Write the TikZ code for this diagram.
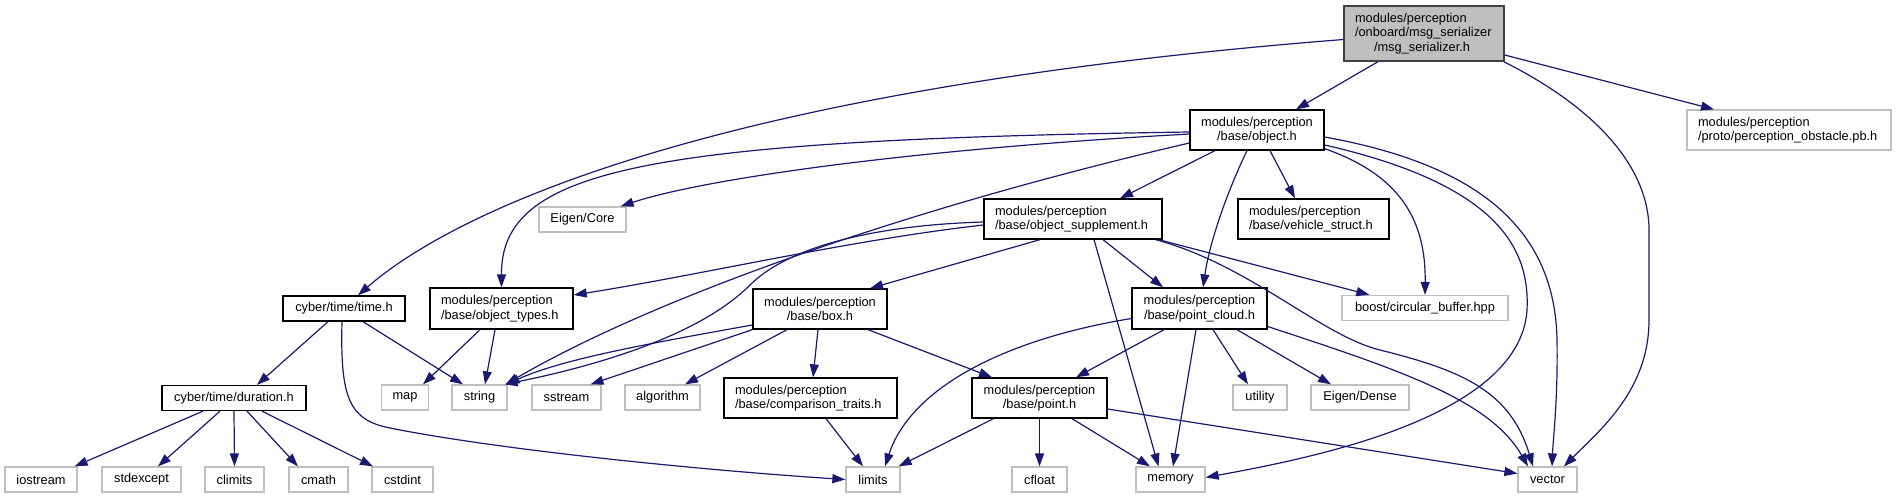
\documentclass[tikz,border=0pt]{standalone}
\usepackage{fontspec}
\setmainfont{Liberation Sans}
\usepackage{tikz}
\usetikzlibrary{arrows.meta}
\definecolor{navyedge}{HTML}{191970}
\definecolor{sysgray}{HTML}{BFBFBF}

\begin{document}
\begin{tikzpicture}[>={Triangle[length=13pt, width=9pt]}, x=1pt, y=-1pt,
    hdr/.style={draw=black, line width=1.3pt, fill=white, inner xsep=11pt, inner ysep=0pt,
        minimum height=25pt, font=\fontsize{12.8}{14.5}\selectfont},
    sys/.style={hdr, draw=sysgray},
    two/.style={minimum height=40pt},
    inc/.style={->, draw=navyedge, line width=1.2pt}]

    \useasboundingbox (0, 0) rectangle (1897, 499);

    % --- 第一层 ---
    \node[hdr, draw=black!75, fill=sysgray, minimum height=55pt, text width=138pt, align=left] (root) at (1424, 33.5)
        {modules/perception\\/onboard/msg\_serializer\\\hspace*{19pt}/msg\_serializer.h};

    % --- 第二层 ---
    \node[hdr, two, text width=112pt, align=center] (obj) at (1257, 130) {modules/perception\\/base/object.h};
    \node[sys, two, text width=182pt, align=left] (pb) at (1789, 130) {modules/perception\\/proto/perception\_obstacle.pb.h};

    % --- 第三层 ---
    \node[sys, minimum width=87pt] (eigc) at (582.5, 219.5) {Eigen/Core};
    \node[hdr, two, text width=156pt, align=left] (sup) at (1073, 219) {modules/perception\\/base/object\_supplement.h};
    \node[hdr, two, text width=129pt, align=left] (vs) at (1313.5, 219) {modules/perception\\/base/vehicle\_struct.h};

    % --- 第四层 ---
    \node[hdr, minimum width=122pt] (time) at (344, 308.5) {cyber/time/time.h};
    \node[hdr, minimum height=41pt, text width=121pt, align=left] (types) at (501.5, 308.5) {modules/perception\\/base/object\_types.h};
    \node[hdr, two, text width=112pt, align=center] (box) at (820, 309) {modules/perception\\/base/box.h};
    \node[hdr, minimum height=41pt, text width=113pt, align=center] (pcl) at (1199.5, 308.5) {modules/perception\\/base/point\_cloud.h};
    \node[sys, minimum width=166pt] (boost) at (1425, 308) {boost/circular\_buffer.hpp};

    % --- 第五层 ---
    \node[hdr, minimum width=144pt] (dur) at (234, 398) {cyber/time/duration.h};
    \node[sys, minimum width=46pt] (map) at (405, 397.5) {map};
    \node[sys, minimum width=55pt] (string) at (479.5, 397.5) {string};
    \node[sys, minimum width=69pt] (sstream) at (566.5, 397.5) {sstream};
    \node[sys, minimum width=75pt] (algorithm) at (662.5, 397.5) {algorithm};
    \node[hdr, two, text width=151pt, align=left] (cmp) at (810.5, 398) {modules/perception\\/base/comparison\_traits.h};
    \node[hdr, two, text width=113pt, align=center] (point) at (1039.5, 398) {modules/perception\\/base/point.h};
    \node[sys, minimum width=54pt] (utility) at (1260, 397.5) {utility};
    \node[sys, minimum width=98pt] (edense) at (1360, 397.5) {Eigen/Dense};

    % --- 第六层 ---
    \node[sys, minimum width=72pt] (iostream) at (41, 479.5) {iostream};
    \node[sys, minimum width=79pt] (stdexcept) at (141.5, 479.5) {stdexcept};
    \node[sys, minimum width=59pt] (climits) at (234.5, 479.5) {climits};
    \node[sys, minimum width=59pt] (cmath) at (318.5, 479.5) {cmath};
    \node[sys, minimum width=61pt] (cstdint) at (402.5, 479.5) {cstdint};
    \node[sys, minimum width=54pt] (limits) at (873, 479.5) {limits};
    \node[sys, minimum width=55pt] (cfloat) at (1039.5, 479.5) {cfloat};
    \node[sys, minimum width=69pt] (memory) at (1170.5, 479.5) {memory};
    \node[sys, minimum width=59pt] (vector) at (1547.5, 479.5) {vector};

    % --- msg_serializer.h ---
    \draw[inc] ([yshift=-6pt]root.west) .. controls (700, 90) and (450, 215) .. ([xshift=14pt]time.north);
    \draw[inc] ([xshift=-46pt]root.south) -- ([xshift=39pt]obj.north);
    \draw[inc] ([yshift=-21.5pt]root.east) -- ([xshift=-75pt]pb.north);
    \draw[inc] ([xshift=-1pt]root.south east) .. controls (1600, 110) and (1649, 170) .. (1649, 230) -- (1649, 320)
        .. controls (1649, 390) and (1600, 430) .. ([xshift=16.5pt]vector.north);

    % --- object.h ---
    \draw[inc] ([xshift=13pt]obj.south) -- ([xshift=-18.5pt]vs.north);
    \draw[inc] ([xshift=-42pt]obj.south) -- ([xshift=47pt]sup.north);
    \draw[inc] ([xshift=-10pt]obj.south) .. controls (1228, 190) and (1210, 240) .. ([xshift=3.5pt]pcl.north);
    \draw[inc] ([yshift=2pt]obj.south east) .. controls (1400, 175) and (1426, 220) .. (boost.north);
    \draw[inc] ([yshift=-15pt]obj.east) .. controls (1500, 185) and (1530, 250) .. (1527, 310)
        .. controls (1520, 420) and (1300, 460) .. ([yshift=2pt]memory.east);
    \draw[inc] ([yshift=-7pt]obj.east) .. controls (1480, 165) and (1555, 230) .. (1557, 340)
        .. controls (1558, 400) and (1553, 440) .. ([xshift=4.5pt]vector.north);
    \draw[inc] ([yshift=-2pt]obj.west) .. controls (640, 140) and (501, 170) .. (types.north);
    \draw[inc] ([yshift=-4pt]obj.west) .. controls (900, 150) and (700, 180) .. ([xshift=-6pt]eigc.north east);
    \draw[inc] ([yshift=-13pt]obj.west) .. controls (900, 210) and (650, 300) .. ([xshift=-2pt]string.north east);

    % --- object_supplement.h ---
    \draw[inc] ([yshift=-6pt]sup.west) .. controls (850, 240) and (700, 275) .. ([yshift=13.5pt]types.east);
    \draw[inc] ([yshift=-3pt]sup.west) .. controls (880, 225) and (790, 245) .. (750, 285)
        .. controls (700, 335) and (600, 365) .. ([xshift=-3pt]string.north east);
    \draw[inc] ([xshift=-33pt]sup.south) -- ([xshift=50pt]box.north);
    \draw[inc] ([xshift=30pt]sup.south) -- ([xshift=-36.5pt]pcl.north);
    \draw[inc] ([xshift=-4pt]sup.south east) -- ([xshift=28pt]boost.north west);
    \draw[inc] ([xshift=21pt]sup.south) -- ([xshift=-12pt]memory.north);
    \draw[inc] ([xshift=-7pt]sup.south east) .. controls (1250, 265) and (1320, 335) .. (1380, 350)
        .. controls (1460, 370) and (1510, 390) .. ([xshift=-14.5pt]vector.north);

    % --- time.h / object_types.h ---
    \draw[inc] ([xshift=-16pt]time.south) -- ([xshift=23pt]dur.north);
    \draw[inc] ([xshift=19pt]time.south) -- ([xshift=-16.5pt]string.north);
    \draw[inc] ([xshift=-2pt]time.south) .. controls (340, 400) and (350, 420) .. (390, 428)
        .. controls (500, 450) and (700, 470) .. (limits.west);
    \draw[inc] ([xshift=-21.5pt]types.south) -- ([xshift=18pt]map.north);
    \draw[inc] ([xshift=-6.5pt]types.south) -- ([xshift=5.5pt]string.north);

    % --- duration.h ---
    \draw[inc] ([xshift=-31pt]dur.south) -- ([xshift=-3pt]iostream.north east);
    \draw[inc] ([xshift=-14pt]dur.south) -- ([xshift=16.5pt]stdexcept.north);
    \draw[inc] (dur.south) -- (climits.north);
    \draw[inc] ([xshift=13pt]dur.south) -- ([xshift=-20.5pt]cmath.north);
    \draw[inc] ([xshift=28pt]dur.south) -- ([xshift=-29.5pt]cstdint.north);

    % --- box.h ---
    \draw[inc] ([yshift=-16pt]box.west) .. controls (640, 345) and (560, 360) .. ([xshift=-1pt]string.north east);
    \draw[inc] (box.south west) -- ([xshift=24pt]sstream.north);
    \draw[inc] ([xshift=-33pt]box.south) -- ([xshift=22.5pt]algorithm.north);
    \draw[inc] ([xshift=-2pt]box.south) -- ([xshift=2.5pt]cmp.north);
    \draw[inc] ([xshift=48pt]box.south) -- ([xshift=-47.5pt]point.north);

    % --- point_cloud.h ---
    \draw[inc] ([xshift=-35.5pt]pcl.south) -- ([xshift=36.5pt]point.north);
    \draw[inc] ([xshift=-3.5pt]pcl.south) -- ([xshift=2.5pt]memory.north);
    \draw[inc] ([xshift=13.5pt]pcl.south) -- ([xshift=-12pt]utility.north);
    \draw[inc] ([xshift=37.5pt]pcl.south) -- ([xshift=-29pt]edense.north);
    \draw[inc] ([yshift=-18pt]pcl.east) .. controls (1400, 370) and (1490, 400) .. ([xshift=-19.5pt]vector.north);
    \draw[inc] ([yshift=-10pt]pcl.west) .. controls (1000, 340) and (910, 390) .. ([xshift=12pt]limits.north);

    % --- comparison_traits.h / point.h ---
    \draw[inc] ([xshift=15.5pt]cmp.south) -- ([xshift=-10pt]limits.north);
    \draw[inc] ([xshift=-46pt]point.south) -- ([xshift=-2pt]limits.north east);
    \draw[inc] (point.south) -- (cfloat.north);
    \draw[inc] ([xshift=32.5pt]point.south) -- ([xshift=-20.5pt]memory.north);
    \draw[inc] ([yshift=-11pt]point.east) -- ([yshift=6pt]vector.west);
\end{tikzpicture}
\end{document}
